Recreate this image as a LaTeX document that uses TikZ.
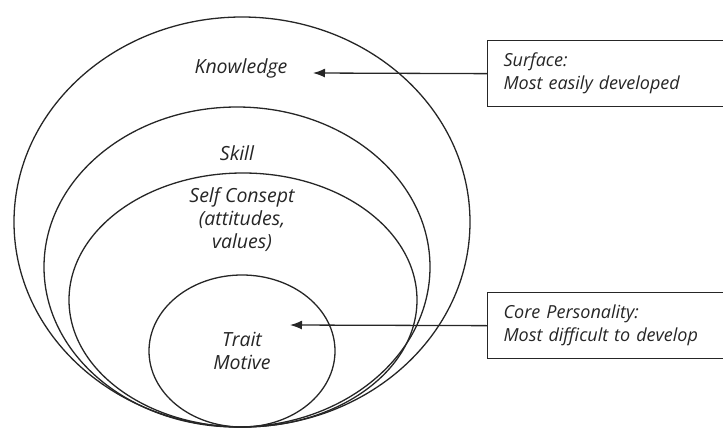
\documentclass[tikz,border=0pt]{standalone}
\usepackage{fontspec}
\setmainfont{Open Sans}
\usetikzlibrary{arrows.meta,positioning}
\begin{document}
\begin{tikzpicture}[x=1pt,y=-1pt,
	ring/.style={line width=1.3pt, black!85},
	ringtext/.style={font=\itshape\fontsize{19.5}{23}\selectfont, align=center, text=black!85},
	infobox/.style={draw, line width=1.3pt, black!85, anchor=north west,
		text width=280pt, inner xsep=16pt, minimum height=66pt, align=left,
		font=\itshape\fontsize{18}{23}\selectfont},
	pointer/.style={line width=1.3pt, black!85, -{Latex[length=12pt,width=9pt]}}]
	
		\useasboundingbox (0,0) rectangle (723,428);
		
		% ellipses, outside to inside
		\draw[ring] (242,222) ellipse [x radius=228pt, y radius=205pt];
		\draw[ring] (237,267) ellipse [x radius=193pt, y radius=160pt];
		\draw[ring] (243,300) ellipse [x radius=174pt, y radius=127pt];
		\draw[ring] (242,351) ellipse [x radius=93pt, y radius=76pt];
		
		% labels
		\node[ringtext] (knowledge) at (241,68) {Knowledge};
		\node[ringtext] (skill) at (237,153) {Skill};
		\node[ringtext] (selfconcept) at (242,220) {Self Consept\\(attitudes,\\values)};
		\node[ringtext] (trait) at (242,351) {Trait\\Motive};
		
		% boxes
		\node[infobox] (surface) at (487,40) {Surface:\\Most easily developed};
		\node[infobox] (core) at (487,292) {Core Personality:\\Most difficult to develop};
		
		% arrows
		\coordinate (surfacetip) at (313,73);
		\coordinate (coretip) at (290,325);
		\draw[pointer] (surface.west) -- (surfacetip);
		\draw[pointer] (core.west) -- (coretip);
	
	\end{tikzpicture}
\end{document}
